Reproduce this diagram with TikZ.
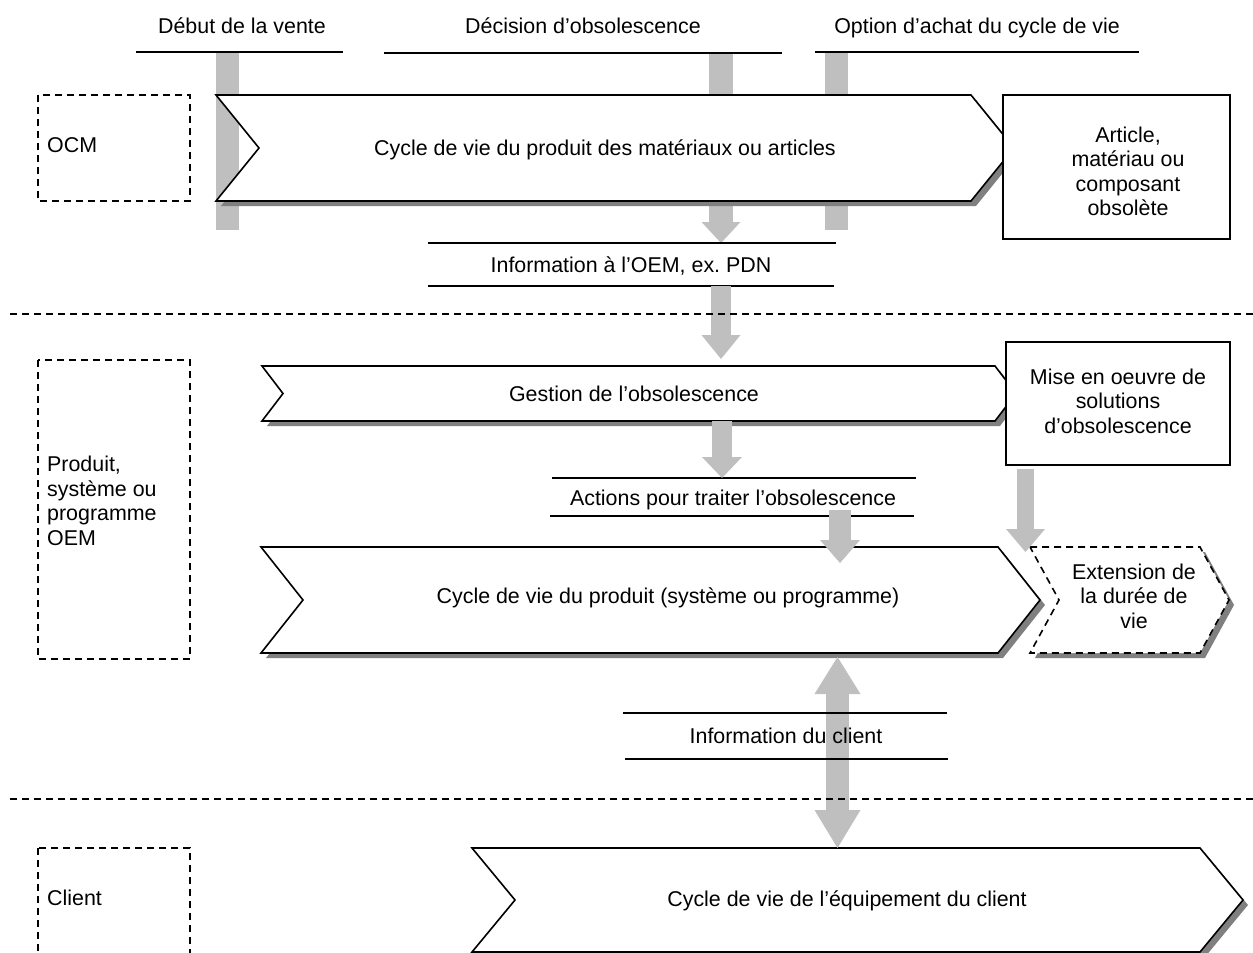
\documentclass[tikz,border=0pt]{standalone}
\usepackage{fontspec}
\setmainfont{Liberation Sans}
\usetikzlibrary{arrows.meta}
\definecolor{barc}{gray}{0.75}
\definecolor{shadowc}{gray}{0.5}
\frenchspacing
\newcommand{\chevpath}[5]{(#1,#3) -- (#2,#3) -- ({#2+#5},{(#3+#4)/2}) -- (#2,#4) -- (#1,#4) -- ({#1+#5},{(#3+#4)/2}) -- cycle}
\begin{document}
\begin{tikzpicture}[x=1pt,y=-1pt,
  lbl/.style={font=\fontsize{21.4}{24.5}\selectfont, align=center, inner sep=0pt},
  blbl/.style={lbl, anchor=base},
  lane/.style={font=\fontsize{21.4}{24.5}\selectfont, align=left, inner sep=0pt, anchor=west},
  rule/.style={line width=1.6pt},
  sep/.style={line width=1.5pt, dash pattern=on 7pt off 5pt},
  lanebox/.style={line width=1.5pt, dash pattern=on 7pt off 5pt},
  chevbox/.style={draw=black, fill=white, line width=1.6pt, line join=miter},
  shad/.style={fill=shadowc},
  solidbox/.style={draw=black, fill=white, line width=1.6pt},
  gbar/.style={draw=barc, line width=#1},
  garrow/.style n args={3}{draw=barc, line width=#1, -{Triangle[width=#2,length=#3,line width=0pt]}},
]
\useasboundingbox (0,0) rectangle (1253,953);
\clip (0,0) rectangle (1253,953);

% coordinates
\coordinate (b1t) at (227.5,53); \coordinate (b1b) at (227.5,230);
\coordinate (b2t) at (721,53);   \coordinate (b2b) at (721,243);
\coordinate (b3t) at (836.5,53); \coordinate (b3b) at (836.5,230);

% top milestone bars
\draw[gbar=23pt] (b1t) -- (b1b);
\draw[garrow={24pt}{39pt}{21pt}] (b2t) -- (b2b);
\draw[gbar=23pt] (b3t) -- (b3b);

% top labels
\node[blbl] (debut) at (242,33) {Début de la vente};
\node[blbl] (decision) at (583,33) {Décision d’obsolescence};
\node[blbl] (option) at (977,33) {Option d’achat du cycle de vie};
\draw[rule] (136,52) -- (343,52);
\draw[rule] (384,53) -- (782,53);
\draw[rule] (815,52) -- (1139,52);

% lane boxes
\draw[lanebox] (38,95) rectangle (190,201);
\node[lane, anchor=base west] (ocm) at (47,152) {OCM};
\draw[lanebox] (38,360) rectangle (190,659);
\node[lane] (oem) at (47,501) {Produit,\\système ou\\programme\\OEM};
\draw[lanebox] (38,848) rectangle (190,970);
\node[lane, anchor=base west] (client) at (47,905) {Client};

% chevron 1
\fill[shad,shift={(5,5)}] \chevpath{216}{971}{95}{201}{43};
\draw[chevbox] \chevpath{216}{971}{95}{201}{43};
\node[blbl] (c1) at (605,155) {Cycle de vie du produit des matériaux ou articles};

% article box
\draw[solidbox] (1003,95) rectangle (1230,239);
\node[lbl] (article) at (1128,171.5) {Article,\\matériau ou\\composant\\obsolète};

% info OEM
\draw[rule] (428,243) -- (836,243);
\draw[rule] (428,286) -- (834,286);
\node[blbl] (info) at (631,272.5) {Information à l’OEM, ex. PDN};

% chevron 2
\fill[shad,shift={(5,5)}] \chevpath{262}{995}{366}{421}{21};
\draw[chevbox] \chevpath{262}{995}{366}{421}{21};
\node[blbl] (gestion) at (634,401.5) {Gestion de l’obsolescence};

\coordinate (a1s) at (721,286); \coordinate (a1e) at (721,359);
\draw[garrow={20pt}{39pt}{24pt}] (a1s) -- (a1e);

% mise en oeuvre box
\draw[solidbox] (1006,342) rectangle (1230,465);
\node[lbl] (mise) at (1118,401) {Mise en oeuvre de\\solutions\\d’obsolescence};

% actions
\draw[rule] (552,478) -- (916,478);
\draw[rule] (550,516) -- (914,516);
\node[blbl] (actions) at (733,505) {Actions pour traiter l’obsolescence};
\coordinate (a2s) at (722,421); \coordinate (a2e) at (722,478);
\draw[garrow={20pt}{40pt}{21pt}] (a2s) -- (a2e);

% chevron 3
\fill[shad,shift={(5,5)}] \chevpath{261}{998}{547}{653}{42};
\draw[chevbox] \chevpath{261}{998}{547}{653}{42};
\node[blbl] (c3) at (668,603) {Cycle de vie du produit (système ou programme)};

% extension chevron (dashed)
\fill[shad,shift={(5,5)}] \chevpath{1030}{1200}{547}{653}{29};
\draw[chevbox, dash pattern=on 7pt off 5pt] \chevpath{1030}{1200}{547}{653}{29};
\node[lbl] (ext) at (1134,596) {Extension de\\la durée de\\vie};

\coordinate (a3s) at (840,510); \coordinate (a3e) at (840,563);
\draw[garrow={22pt}{40pt}{23pt}] (a3s) -- (a3e);
\coordinate (a4s) at (1025.5,469); \coordinate (a4e) at (1025.5,552);
\draw[garrow={17pt}{39pt}{23pt}] (a4s) -- (a4e);

% chevron 4
\fill[shad,shift={(5,5)}] \chevpath{472}{1200}{848}{952}{43};
\draw[chevbox] \chevpath{472}{1200}{848}{952}{43};
\node[blbl] (c4) at (847,906.5) {Cycle de vie de l’équipement du client};

% double arrow
\coordinate (dA) at (837.5,657); \coordinate (dB) at (837.5,848);
\draw[draw=barc, line width=23pt, {Triangle[width=46pt,length=37pt,line width=0pt]}-{Triangle[width=46pt,length=38pt,line width=0pt]}] (dA) -- (dB);

% client info
\draw[rule] (623,713) -- (947,713);
\draw[rule] (625,759) -- (948,759);
\node[blbl] (cinfo) at (786,743) {Information du client};

% separators
\draw[sep] (10,314) -- (1253,314);
\draw[sep] (10,799) -- (1253,799);
\end{tikzpicture}
\end{document}
